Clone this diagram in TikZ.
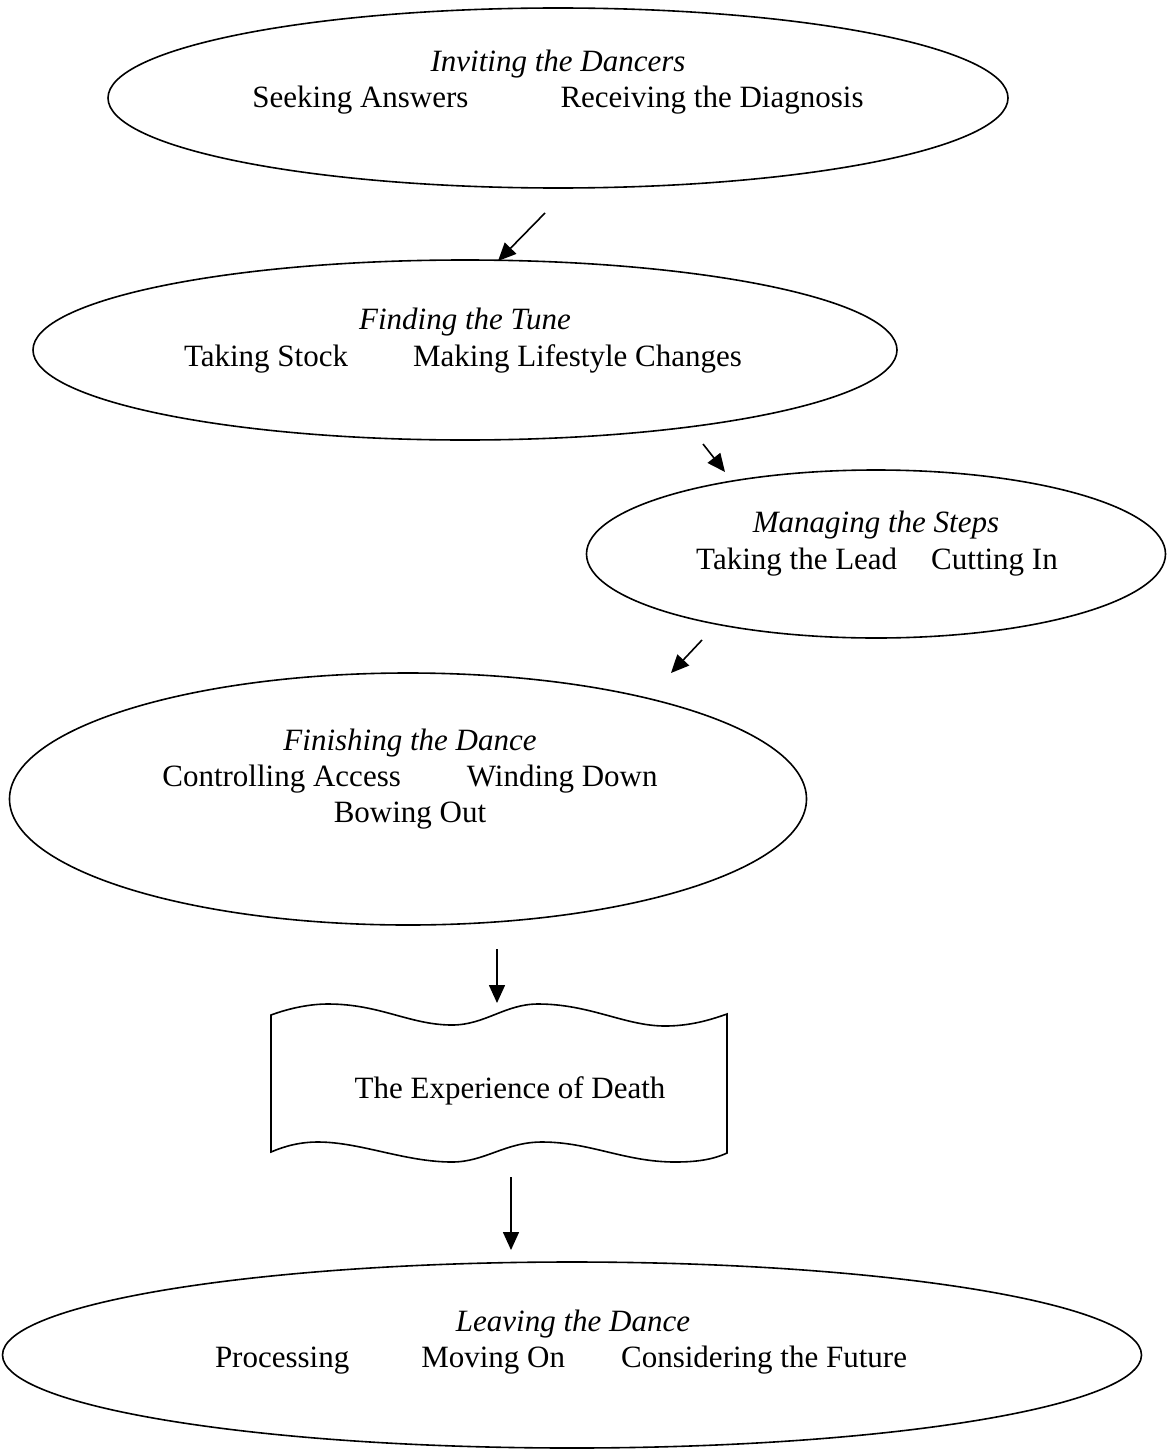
\documentclass[tikz,border=0pt]{standalone}
\usepackage{fontspec}
\setmainfont{Liberation Serif}
\usetikzlibrary{shapes.geometric,arrows.meta}
\tikzset{
  bubble/.style={draw, line width=0.8pt, ellipse, inner sep=0pt},
  lbl/.style={anchor=base, inner sep=0pt, font=\fontsize{15.5}{18}\selectfont},
  ttl/.style={lbl, font=\fontsize{15.5}{18}\selectfont\itshape},
  arr/.style={line width=0.8pt, -{Triangle[length=9pt,width=8pt]}},
  tape/.style={line width=0.8pt}
}
\begin{document}
\begin{tikzpicture}[x=0.5pt,y=-0.5pt]
\useasboundingbox (0,0) rectangle (1168,1450);
% ellipses
\node[bubble, minimum width=450pt, minimum height=90pt] (e1) at (558,98) {};
\node[bubble, minimum width=432pt, minimum height=90pt] (e2) at (465,350) {};
\node[bubble, minimum width=289.5pt, minimum height=84pt] (e3) at (876,554) {};
\node[bubble, minimum width=398.5pt, minimum height=126pt] (e4) at (408,799) {};
\node[bubble, minimum width=569.5pt, minimum height=93pt] (e5) at (572,1355) {};
% texts
\node[ttl] (t1a) at (558,72) {Inviting the Dancers};
\node[lbl] (t1b) at (558,108) {Seeking Answers\hspace{46pt}Receiving the Diagnosis};
\node[ttl] (t2a) at (465,329) {Finding the Tune};
\node[lbl] (t2b) at (463,366) {Taking Stock\hspace{32.5pt}Making Lifestyle Changes};
\node[ttl] (t3a) at (876,532) {Managing the Steps};
\node[lbl] (t3b) at (877,569) {Taking the Lead\hspace{17pt}Cutting In};
\node[ttl] (t4a) at (410,750) {Finishing the Dance};
\node[lbl] (t4b) at (410,786) {Controlling Access\hspace{33pt}Winding Down};
\node[lbl] (t4c) at (410,822) {Bowing Out};
\node[ttl] (t5a) at (573,1331) {Leaving the Dance};
\node[lbl] (t5b) at (561,1367) {Processing\hspace{36pt}Moving On\hspace{28pt}Considering the Future};
% punched tape
\draw[tape] (271,1015) .. controls (290,1008) and (310,1004) .. (328,1004)
  .. controls (380,1004) and (410,1025) .. (452,1025)
  .. controls (485,1025) and (505,1004) .. (538,1004)
  .. controls (590,1004) and (625,1026) .. (665,1026)
  .. controls (690,1026) and (710,1020) .. (727,1014)
  -- (727,1153)
  .. controls (712,1160) and (695,1162) .. (675,1162)
  .. controls (625,1162) and (590,1142) .. (542,1142)
  .. controls (505,1142) and (485,1162) .. (452,1162)
  .. controls (405,1162) and (360,1142) .. (318,1142)
  .. controls (300,1142) and (285,1146) .. (271,1152) -- cycle;
\node[lbl] (doc) at (510,1098) {The Experience of Death};
% arrow ends
\coordinate (a1s) at (545,213); \coordinate (a1e) at (498,261);
\coordinate (a2s) at (703,444); \coordinate (a2e) at (725,472);
\coordinate (a3s) at (702,640); \coordinate (a3e) at (671,673);
\coordinate (a4s) at (497,949); \coordinate (a4e) at (497,1003);
\coordinate (a5s) at (511,1177); \coordinate (a5e) at (511,1250);
\draw[arr] (a1s) -- (a1e);
\draw[arr] (a2s) -- (a2e);
\draw[arr] (a3s) -- (a3e);
\draw[arr] (a4s) -- (a4e);
\draw[arr] (a5s) -- (a5e);
\end{tikzpicture}
\end{document}
